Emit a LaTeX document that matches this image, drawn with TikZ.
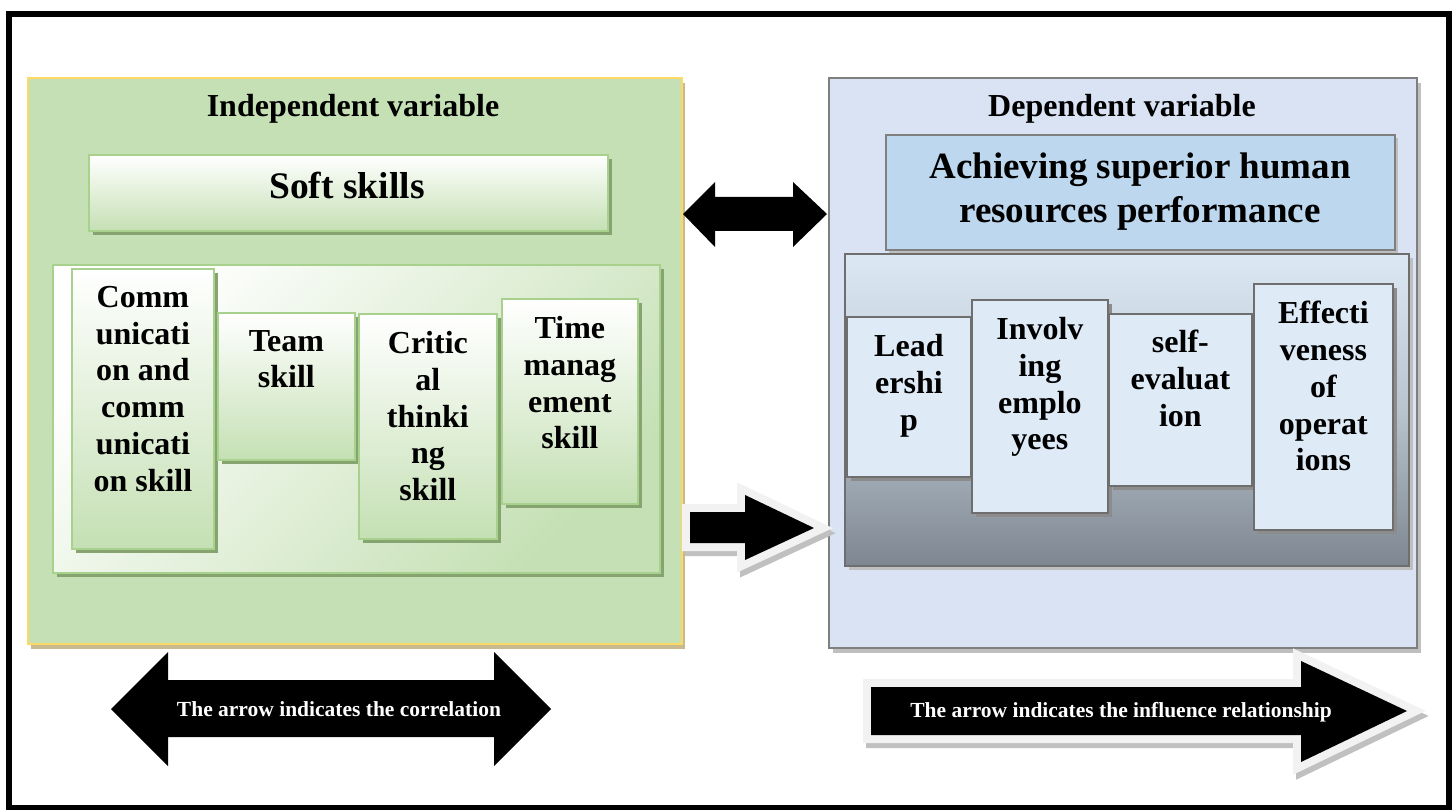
\documentclass[tikz,border=0pt]{standalone}
\usepackage{fontspec}
\setmainfont{Liberation Serif}
\usetikzlibrary{shadows}
\definecolor{gfill}{HTML}{C5E0B4}
\definecolor{gbord}{HTML}{A9D18E}
\definecolor{gshd}{HTML}{86A46F}
\definecolor{ybord}{HTML}{FFD966}
\definecolor{yshd}{HTML}{C9B98F}
\definecolor{bpanel}{HTML}{DAE3F3}
\definecolor{bbord}{HTML}{7F7F7F}
\definecolor{bshd}{HTML}{BFBFBF}
\definecolor{achv}{HTML}{BDD7EE}
\definecolor{bboxfill}{HTML}{DEEAF6}
\definecolor{bboxbord}{HTML}{6E6E6E}
\definecolor{bboxshd}{HTML}{8C8C8C}
\definecolor{ctop}{HTML}{DCE8F4}
\definecolor{cmid}{HTML}{B9C4CF}
\definecolor{cbot}{HTML}{7D8691}
\definecolor{outl}{HTML}{F2F2F2}
\definecolor{arshd}{HTML}{C0C0C0}
\begin{document}
\begin{tikzpicture}[x=1pt,y=-1pt,
  lbl/.style={font=\fontsize{32}{36.8}\selectfont\bfseries, align=center, anchor=north, inner sep=0pt},
  ttl/.style={font=\fontsize{32}{38}\selectfont\bfseries, anchor=base, inner sep=0pt},
  box/.style={anchor=north west, inner sep=0pt, line width=1.8pt},
  gshadow/.style={drop shadow={shadow xshift=4pt, shadow yshift=-4pt, fill=gshd, opacity=1}},
  gbox/.style={box, draw=gbord, top color=white, bottom color=gfill, gshadow},
  bbox/.style={box, draw=bboxbord, fill=bboxfill, drop shadow={shadow xshift=4pt, shadow yshift=-4pt, fill=bboxshd, opacity=1}},
  arrtxt/.style={font=\fontsize{21.5}{24}\selectfont\bfseries, text=white, anchor=base, inner sep=0pt},
  outline/.style={draw=#1, line width=16pt, line join=miter},
]
\useasboundingbox (0,0) rectangle (1456,810);
\fill[white] (0,0) rectangle (1456,810);
\draw[line width=6pt] (9,14) rectangle (1449,808);

% ---------- left panel ----------
\node[box, draw=ybord, fill=gfill, minimum width=654pt, minimum height=566pt,
      drop shadow={shadow xshift=3pt, shadow yshift=-5pt, fill=yshd, opacity=1}] (indep) at (27,77) {};
\node[ttl] (indept) at (353,117) {Independent variable};
\node[gbox, minimum width=519pt, minimum height=76pt] (soft) at (88,154) {};
\node[font=\fontsize{37.5}{44}\selectfont\bfseries, anchor=base, inner sep=0pt] (softt) at (347,199) {Soft skills};
\node[box, draw=gbord, top color=white, bottom color=gfill, shading angle=45,
      minimum width=607pt, minimum height=308pt, gshadow] (inner) at (52,264) {};

\node[gbox, minimum width=142pt, minimum height=280pt] (comm) at (71,268) {};
\node[lbl] (commt) at ([yshift=-18pt]comm.north) {Comm\\unicati\\on and\\comm\\unicati\\on skill};
\node[gbox, minimum width=137pt, minimum height=147pt] (team) at (217,312) {};
\node[lbl] (teamt) at ([yshift=-18pt]team.north) {Team\\skill};
\node[gbox, minimum width=138pt, minimum height=225pt] (crit) at (358,313) {};
\node[lbl] (critt) at ([yshift=-18pt]crit.north) {Critic\\al\\thinki\\ng\\skill};
\node[gbox, minimum width=136pt, minimum height=205pt] (time) at (501,298) {};
\node[lbl] (timet) at ([yshift=-18pt]time.north) {Time\\manag\\ement\\skill};

% ---------- right panel ----------
\node[box, draw=bbord, fill=bpanel, minimum width=588pt, minimum height=570pt,
      drop shadow={shadow xshift=4pt, shadow yshift=-5pt, fill=bshd, opacity=1}] (dep) at (828,77) {};
\node[ttl] (dept) at (1122,117) {Dependent variable};
\node[box, draw=bbord, fill=achv, minimum width=509pt, minimum height=115pt,
      drop shadow={shadow xshift=3pt, shadow yshift=-3pt, fill=bshd, opacity=1}] (achv) at (885,134) {};
\node[font=\fontsize{37}{44}\selectfont\bfseries, align=center, anchor=north, inner sep=0pt] (achvt) at (1140,153)
  {Achieving superior human\\resources performance};
\node[box, draw=bboxbord, top color=ctop, bottom color=cbot, middle color=cmid,
      minimum width=564pt, minimum height=312pt,
      drop shadow={shadow xshift=4pt, shadow yshift=-4pt, fill=bshd, opacity=1}] (dinner) at (844,253) {};

\node[bbox, minimum width=124pt, minimum height=160pt] (lead) at (846,316) {};
\node[lbl] (leadt) at ([yshift=-18pt]lead.north) {Lead\\ershi\\p};
\node[bbox, minimum width=136pt, minimum height=213pt] (invol) at (971,299) {};
\node[lbl] (involt) at ([yshift=-18pt]invol.north) {Involv\\ing\\emplo\\yees};
\node[bbox, minimum width=143pt, minimum height=172pt] (selfe) at (1108,313) {};
\node[lbl] (selfet) at ([yshift=-17pt]selfe.north) {self-\\evaluat\\ion};
\node[bbox, minimum width=139pt, minimum height=246pt] (effe) at (1253,283) {};
\node[lbl] (effet) at ([yshift=-18pt]effe.north) {Effecti\\veness\\of\\operat\\ions};

% ---------- arrows ----------
\fill[black] (683,214) -- (715,182) -- (715,197) -- (793,197) -- (793,182) -- (827,214)
  -- (793,247) -- (793,231) -- (715,231) -- (715,247) -- cycle;

\def\arrA{(690,512) -- (745,512) -- (745,495) -- (814,528) -- (745,560) -- (745,543) -- (690,543) -- cycle}
\draw[outline=arshd, xshift=3pt, yshift=-5pt] \arrA;
\draw[outline=outl] \arrA;
\fill[black] \arrA;

\fill[black] (111,709) -- (168,652) -- (168,680) -- (494,680) -- (494,652) -- (551,709)
  -- (494,766) -- (494,737) -- (168,737) -- (168,766) -- cycle;
\node[arrtxt] (corr) at (339,716) {The arrow indicates the correlation};

\def\arrB{(871,687) -- (1301,687) -- (1301,661) -- (1407,711) -- (1301,762) -- (1301,735) -- (871,735) -- cycle}
\draw[outline=arshd, xshift=3pt, yshift=-5pt] \arrB;
\draw[outline=outl] \arrB;
\fill[black] \arrB;
\node[arrtxt] (infl) at (1121,717) {The arrow indicates the influence relationship};
\end{tikzpicture}
\end{document}
